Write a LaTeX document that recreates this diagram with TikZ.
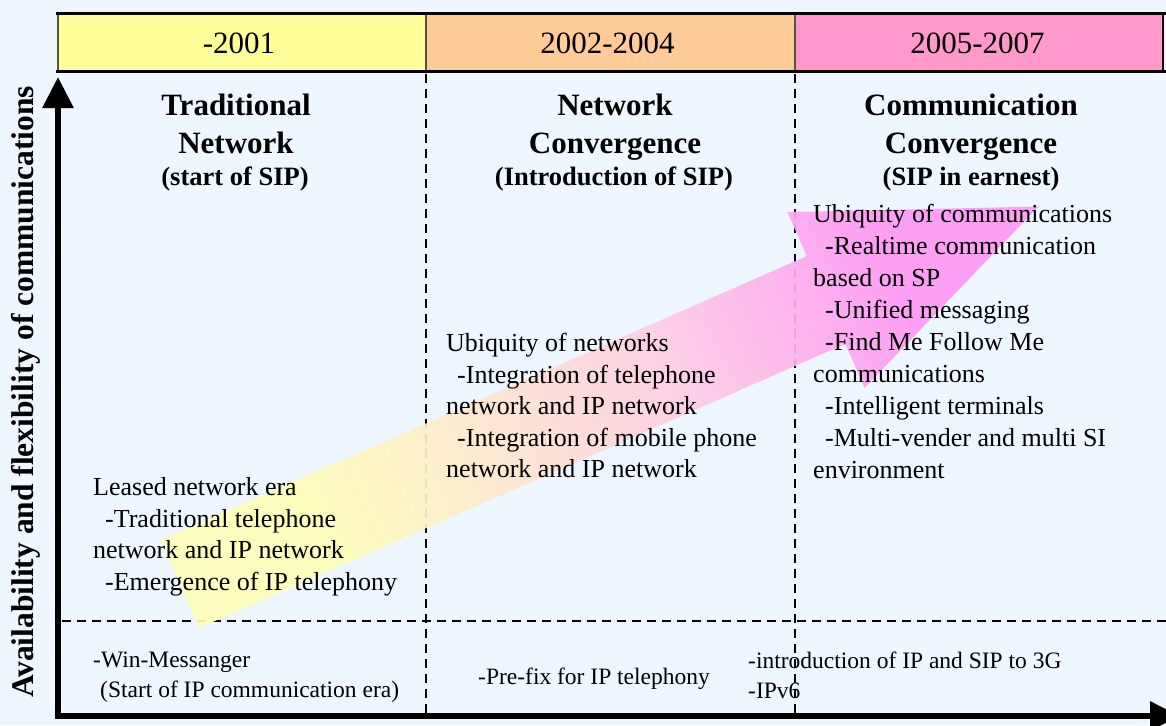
\documentclass[tikz,border=0pt]{standalone}
\usepackage{fontspec}
\setmainfont{Liberation Serif}
\usetikzlibrary{arrows.meta}
\definecolor{bg}{RGB}{238,246,255}
\definecolor{hyel}{RGB}{255,255,153}
\definecolor{horg}{RGB}{255,204,153}
\definecolor{hpnk}{RGB}{255,153,204}
\definecolor{sepc}{RGB}{90,80,60}
\definecolor{ayel}{RGB}{255,255,185}
\definecolor{apch}{RGB}{255,232,205}
\definecolor{amid}{RGB}{255,205,228}
\definecolor{apnk}{RGB}{255,152,245}
\pgfdeclarehorizontalshading{bandshade}{100bp}{color(0bp)=(ayel); color(30bp)=(ayel); color(42bp)=(apch); color(56bp)=(amid); color(72bp)=(apnk); color(100bp)=(apnk)}
\begin{document}
\begin{tikzpicture}[x=1pt,y=-1pt,
  body/.style={font=\fontsize{26}{32}\selectfont, anchor=base west, inner sep=0},
  ttl/.style={font=\fontsize{31}{36}\selectfont\bfseries, anchor=base, inner sep=0},
  sub/.style={font=\fontsize{26.5}{30}\selectfont\bfseries, anchor=base, inner sep=0},
  yr/.style={font=\fontsize{31}{36}\selectfont, anchor=base, inner sep=0},
  low/.style={font=\fontsize{23.5}{28}\selectfont, anchor=base west, inner sep=0},
  grid/.style={line width=2pt, dash pattern=on 9pt off 6pt},
]
\useasboundingbox (0,0) rectangle (1166,725);
\fill[bg] (0,0) rectangle (1166,725);

% header
\fill[hyel] (57,15) rectangle (426,71);
\fill[horg] (426,15) rectangle (795,71);
\fill[hpnk] (795,15) rectangle (1163,71);
\draw[sepc, line width=1.5pt] (58,15) -- (58,71) (426,15) -- (426,71) (795,15) -- (795,71);
\draw[line width=2pt] (1163,15) -- (1163,71);
\draw[line width=3pt] (56,13.5) -- (1166,13.5) (56,71.5) -- (1166,71.5);
\node[yr] (h1) at (239,53) {-2001};
\node[yr] (h2) at (607.5,53) {2002-2004};
\node[yr] (h3) at (977.5,53) {2005-2007};

% grid
\draw[grid] (426,74) -- (426,713) (795,74) -- (795,713) (62,621) -- (1166,621);

% big gradient arrow
\shade[shading=bandshade, shading angle=23.7, opacity=0.92]
  (160.7,540.1) -- (806.7,256.1) -- (787.4,212.1) -- (1038.4,206.6)
  -- (864.6,387.9) -- (845.3,343.9) -- (199.3,627.9) -- cycle;

% axes
\coordinate (ytip) at (58,77);
\coordinate (orig) at (58,716);
\coordinate (xtip) at (1180,716);
\draw[line width=6pt, {Triangle[width=30pt,length=31pt]}-{Triangle[width=28pt,length=30pt]}] (ytip) -- (orig) -- (xtip);
\node[font=\fontsize{31.5}{36}\selectfont\bfseries, rotate=90] (ylab) at (26,392) {Availability and flexibility of communications};

% titles
\node[ttl] (t1a) at (236,115) {Traditional};
\node[ttl] (t1b) at (236,153) {Network};
\node[sub] (t1c) at (235,185) {(start of SIP)};
\node[ttl] (t2a) at (615,115) {Network};
\node[ttl] (t2b) at (615,153) {Convergence};
\node[sub] (t2c) at (614,185) {(Introduction of SIP)};
\node[ttl] (t3a) at (971,115) {Communication};
\node[ttl] (t3b) at (971,153) {Convergence};
\node[sub] (t3c) at (971,185) {(SIP in earnest)};

% column 1
\node[body] (a1) at (93,495) {Leased network era};
\node[body] (a2) at (105,527) {-Traditional telephone};
\node[body] (a3) at (93,558) {network and IP network};
\node[body] (a4) at (105,590) {-Emergence of IP telephony};

% column 2
\node[body] (b1) at (446,351) {Ubiquity of networks};
\node[body] (b2) at (457,383) {-Integration of telephone};
\node[body] (b3) at (446,414) {network and IP network};
\node[body] (b4) at (457,446) {-Integration of mobile phone};
\node[body] (b5) at (446,477) {network and IP network};

% column 3
\node[body] (c1) at (813,222) {Ubiquity of communications};
\node[body] (c2) at (825,254) {-Realtime communication};
\node[body] (c3) at (813,286) {based on SP};
\node[body] (c4) at (825,318) {-Unified messaging};
\node[body] (c5) at (825,350) {-Find Me Follow Me};
\node[body] (c6) at (813,382) {communications};
\node[body] (c7) at (825,414) {-Intelligent terminals};
\node[body] (c8) at (825,446) {-Multi-vender and multi SI};
\node[body] (c9) at (813,478) {environment};

% bottom row
\node[low] (d1) at (93,667) {-Win-Messanger};
\node[low] (d2) at (100,697) {(Start of IP communication era)};
\node[low] (e1) at (478,684) {-Pre-fix for IP telephony};
\node[low] (f1) at (748,668) {-introduction of IP and SIP to 3G};
\node[low] (f2) at (748,698) {-IPv6};
\end{tikzpicture}
\end{document}
